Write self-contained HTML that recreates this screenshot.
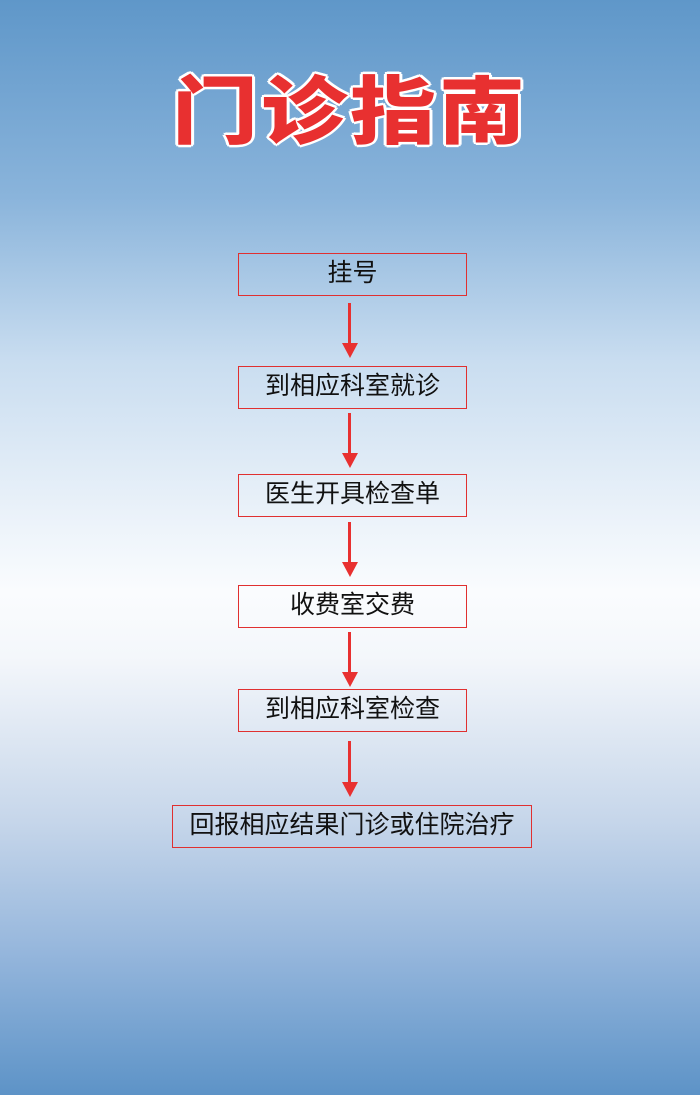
<!DOCTYPE html>
<html><head><meta charset="utf-8"><style>
html,body{margin:0;padding:0}
body{width:700px;height:1095px;position:relative;overflow:hidden;
background:linear-gradient(to bottom,#5f97c9 0%,#8ab4db 18%,#c9ddf0 33%,#e6eff8 45%,#fafcfe 54%,#f4f7fb 60%,#c6d6ea 75%,#95b6dc 87%,#5d93c7 100%);
font-family:"Liberation Sans","Noto Sans CJK SC",sans-serif}
.t{position:absolute;left:0;width:700px;top:48px;text-align:center;font-size:86px;font-weight:900;color:#e83030;letter-spacing:3px;
font-family:"Noto Sans CJK SC","WenQuanYi Zen Hei",sans-serif;transform:scaleY(0.86);transform-origin:50% 24px;
text-shadow:3px 0 #fff,-3px 0 #fff,0 3px #fff,0 -3px #fff,2px 2px #fff,-2px -2px #fff,2px -2px #fff,-2px 2px #fff}
.b{position:absolute;box-sizing:border-box;border:1px solid #e03030;text-align:center;font-size:25px;color:#111;line-height:39px;height:43px}
.a{position:absolute;left:348px;width:3px;background:#e83030}
.h{position:absolute;left:342px;width:0;height:0;border-left:8px solid transparent;border-right:8px solid transparent;border-top:15px solid #e83030}
</style></head><body>
<div class="t">门诊指南</div>
<div class="b" style="left:238px;top:253px;width:229px">挂号</div>
<div class="b" style="left:238px;top:366px;width:229px">到相应科室就诊</div>
<div class="b" style="left:238px;top:474px;width:229px">医生开具检查单</div>
<div class="b" style="left:238px;top:585px;width:229px">收费室交费</div>
<div class="b" style="left:238px;top:689px;width:229px">到相应科室检查</div>
<div class="b" style="left:172px;top:805px;width:360px">回报相应结果门诊或住院治疗</div>
<div class="a" style="top:303px;height:42px"></div><div class="h" style="top:343px"></div>
<div class="a" style="top:413px;height:42px"></div><div class="h" style="top:453px"></div>
<div class="a" style="top:522px;height:42px"></div><div class="h" style="top:562px"></div>
<div class="a" style="top:632px;height:42px"></div><div class="h" style="top:672px"></div>
<div class="a" style="top:741px;height:43px"></div><div class="h" style="top:782px"></div>
</body></html>
